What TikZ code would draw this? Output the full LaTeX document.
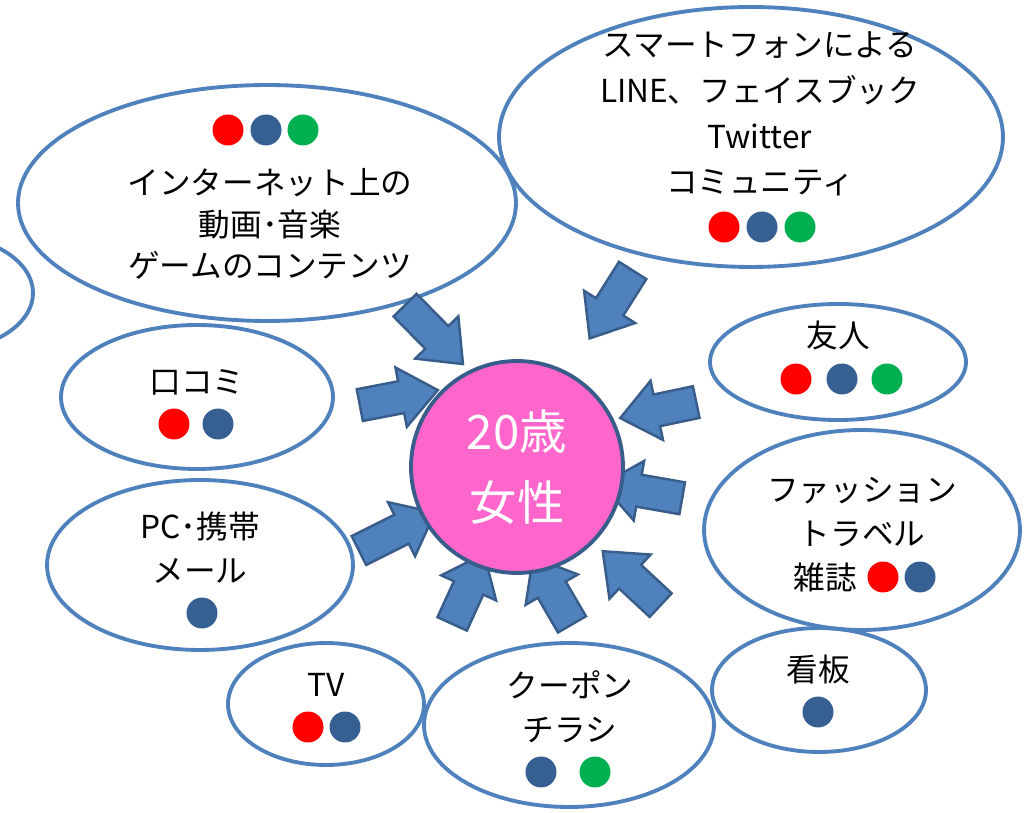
\documentclass[tikz,border=0pt]{standalone}
\usepackage{fontspec}
\usepackage{xcolor}
\newfontfamily\jpfont{Noto Sans CJK JP}
\usetikzlibrary{shapes.geometric,
	shapes.arrows,
	calc,
	positioning}

\definecolor{bubbleblue}{RGB}{79,129,189}
\definecolor{arrowedge}{RGB}{56,93,138}
\definecolor{pinkfill}{RGB}{255,102,204}
\definecolor{dotred}{RGB}{255,0,0}
\definecolor{dotblue}{RGB}{55,96,146}
\definecolor{dotgreen}{RGB}{0,176,80}

\tikzset{
	bubble/.style={ellipse, draw=bubbleblue, line width=2.2pt, inner sep=0pt},
	lbl/.style={font=\jpfont\fontsize{18}{25}\selectfont, align=center, inner sep=0pt},
	dot/.style={circle, inner sep=0pt, minimum size=0.62cm},
	inarrow/.style={single arrow, fill=bubbleblue, draw=arrowedge, line width=1.4pt,
		inner xsep=0pt, inner ysep=8.5pt, single arrow head extend=8pt,
		single arrow tip angle=78}
}

% block arrow from tail to tip
\newcommand{\inarrow}[3]{%
	\path let \p1=#2, \p2=#3, \n1={atan2(\y2-\y1,\x2-\x1)}, \n2={veclen(\x2-\x1,\y2-\y1)} in
		node[inarrow, minimum height=\n2, rotate=\n1] (#1) at ($(\p1)!0.5!(\p2)$) {};}

\begin{document}
\begin{tikzpicture}[x=0.02cm, y=-0.02cm]
	\useasboundingbox (0,0) rectangle (1034,813);
	\clip (0,0) rectangle (1034,813);

	% bubbles
	\node[bubble, minimum width=9.96cm, minimum height=4.72cm] (inet) at (267,203) {};
	\node[bubble, minimum width=10.08cm, minimum height=5.2cm] (phone) at (751,137) {};
	\node[bubble, minimum width=3.72cm, minimum height=2.32cm] (offleft) at (-60,293) {};
	\node[bubble, minimum width=5.44cm, minimum height=2.88cm] (kuchikomi) at (197,397) {};
	\node[bubble, minimum width=6.12cm, minimum height=3.4cm] (pc) at (200,565) {};
	\node[bubble, minimum width=3.92cm, minimum height=2.44cm] (tv) at (326,704) {};
	\node[bubble, minimum width=5.8cm, minimum height=3.28cm] (coupon) at (569,725) {};
	\node[bubble, minimum width=4.28cm, minimum height=2.48cm] (kanban) at (819,690) {};
	\node[bubble, minimum width=6.32cm, minimum height=4cm] (fashion) at (862,530) {};
	\node[bubble, minimum width=5.12cm, minimum height=2.32cm] (yujin) at (838,362) {};

	% arrows into the centre
	\inarrow{ainet}{(398,298)}{(456,357)}
	\inarrow{aphone}{(638,262)}{(595,330)}
	\inarrow{akuchi}{(350,407)}{(428,392)}
	\inarrow{apc}{(350,555)}{(426,517)}
	\inarrow{atv}{(448,633)}{(480,563)}
	\inarrow{acoupon}{(577,633)}{(538,566)}
	\inarrow{akanban}{(668,612)}{(610,558)}
	\inarrow{afashion}{(692,500)}{(612,486)}
	\inarrow{ayujin}{(706,400)}{(630,416)}

	\node[circle, draw=arrowedge, line width=2.2pt, fill=pinkfill, minimum size=4.24cm,
		text=white, align=center, font=\jpfont\fontsize{27}{40}\selectfont] (woman) at (517,467) {20歳\\女性};

	% texts
	\node[lbl, font=\jpfont\fontsize{18}{23.5}\selectfont] (inettxt) at (270,224) {インターネット上の\\動画･音楽\\ゲームのコンテンツ};
	\node[lbl, font=\jpfont\fontsize{18}{26}\selectfont] (phonetxt) at (760,114) {スマートフォンによる\\LINE、フェイスブック\\Twitter\\コミュニティ};
	\node[lbl] (kuchitxt) at (197,382) {口コミ};
	\node[lbl] (pctxt) at (200,548) {PC･携帯\\メール};
	\node[lbl] (tvtxt) at (326,685) {TV};
	\node[lbl] (coupontxt) at (570,707) {クーポン\\チラシ};
	\node[lbl] (kanbantxt) at (818,670) {看板};
	\node[lbl] (yujintxt) at (838,335) {友人};
	\node[lbl] (fashiontxt) at (862,512) {ファッション\\トラベル};
	\node[lbl] (zasshitxt) at (825,577) {雑誌};

	% dots
	\node[dot, fill=dotred] (d1) at (228,130) {};
	\node[dot, fill=dotblue] (d2) at (266,130) {};
	\node[dot, fill=dotgreen] (d3) at (303,130) {};
	\node[dot, fill=dotred] (d4) at (724,227) {};
	\node[dot, fill=dotblue] (d5) at (762,227) {};
	\node[dot, fill=dotgreen] (d6) at (800,227) {};
	\node[dot, fill=dotred] (d7) at (174,424) {};
	\node[dot, fill=dotblue] (d8) at (218,424) {};
	\node[dot, fill=dotblue] (d9) at (202,613) {};
	\node[dot, fill=dotred] (d10) at (308,727) {};
	\node[dot, fill=dotblue] (d11) at (345,727) {};
	\node[dot, fill=dotblue] (d12) at (541,772) {};
	\node[dot, fill=dotgreen] (d13) at (595,772) {};
	\node[dot, fill=dotblue] (d14) at (818,712) {};
	\node[dot, fill=dotred] (d15) at (796,379) {};
	\node[dot, fill=dotblue] (d16) at (842,379) {};
	\node[dot, fill=dotgreen] (d17) at (887,379) {};
	\node[dot, fill=dotred] (d18) at (883,577) {};
	\node[dot, fill=dotblue] (d19) at (920,577) {};
\end{tikzpicture}
\end{document}
